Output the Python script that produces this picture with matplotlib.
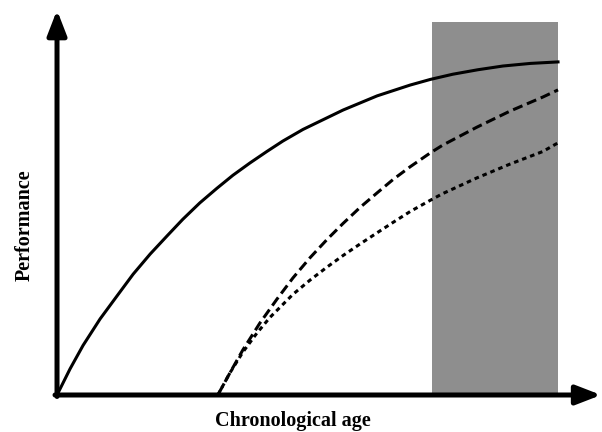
import matplotlib
matplotlib.use("Agg")
import matplotlib.pyplot as plt

# curves (age 0..10, performance 0..10)
solid_age = [0, 0.26, 0.52, 0.86, 1.20, 1.52, 1.86, 2.20, 2.51, 2.85, 3.19, 3.51, 3.85,
             4.19, 4.51, 4.91, 5.71, 6.39, 7.05, 7.45, 7.90, 8.40, 8.90, 9.45, 10.0]
solid_perf = [0, 0.70, 1.33, 2.04, 2.66, 3.24, 3.78, 4.27, 4.71, 5.15, 5.54, 5.89, 6.22,
              6.53, 6.81, 7.12, 7.64, 8.02, 8.31, 8.46, 8.60, 8.72, 8.82, 8.89, 8.93]

dashed_age = [3.21, 3.45, 3.71, 4.05, 4.39, 4.71, 5.05, 5.39, 5.71, 6.05, 6.39, 6.71,
              7.05, 7.45, 7.70, 8.38, 9.04, 9.70, 10.0]
dashed_perf = [0, 0.59, 1.21, 1.93, 2.57, 3.14, 3.68, 4.17, 4.60, 5.03, 5.42, 5.78,
               6.12, 6.49, 6.70, 7.18, 7.61, 7.99, 8.18]

dotted_age = [3.21, 3.45, 3.71, 3.99, 4.25, 4.71, 5.05, 5.39, 5.71, 6.05, 6.39, 6.71,
              7.05, 7.45, 7.70, 8.38, 9.04, 9.70, 10.0]
dotted_perf = [0, 0.59, 1.15, 1.66, 2.08, 2.70, 3.08, 3.43, 3.74, 4.05, 4.35, 4.63,
               4.92, 5.22, 5.40, 5.82, 6.19, 6.53, 6.76]

window = [7.49, 10.0]
window_top = 10.0

fig = plt.figure(figsize=(6.02, 4.32), dpi=100)
ax = fig.add_axes([0, 0, 1, 1])
ax.set_xlim(-1.138, 10.878)
ax.set_ylim(-0.992, 10.59)
ax.axis("off")

# gray window
ax.fill_between(window, 0, window_top, color="#8e8e8e", lw=0, zorder=1)

ax.plot(solid_age, solid_perf, color="black", lw=2.2, zorder=3)
ax.plot(dashed_age, dashed_perf, color="black", lw=2.2, dashes=(3.3, 1.6), zorder=3)
ax.plot(dotted_age, dotted_perf, color="black", lw=2.2, dashes=(1.5, 1.3), zorder=3)

# axes with arrow heads
arrow = dict(arrowstyle="-|>,head_length=1.5,head_width=0.58", color="black", lw=3.6,
             shrinkA=0, shrinkB=0)
ax.annotate("", xy=(0, 10.32), xytext=(0, -0.04), arrowprops=arrow, zorder=4)
ax.annotate("", xy=(10.86, 0), xytext=(-0.04, 0), arrowprops=arrow, zorder=4)

font = dict(family="Liberation Serif", weight="bold", size=14.5)
ax.text(4.71, -0.70, "Chronological age", ha="center", va="center", **font)
ax.text(-0.64, 4.55, "Performance", ha="center", va="center", rotation=90, **font)

fig.savefig("out.png", dpi=100)
